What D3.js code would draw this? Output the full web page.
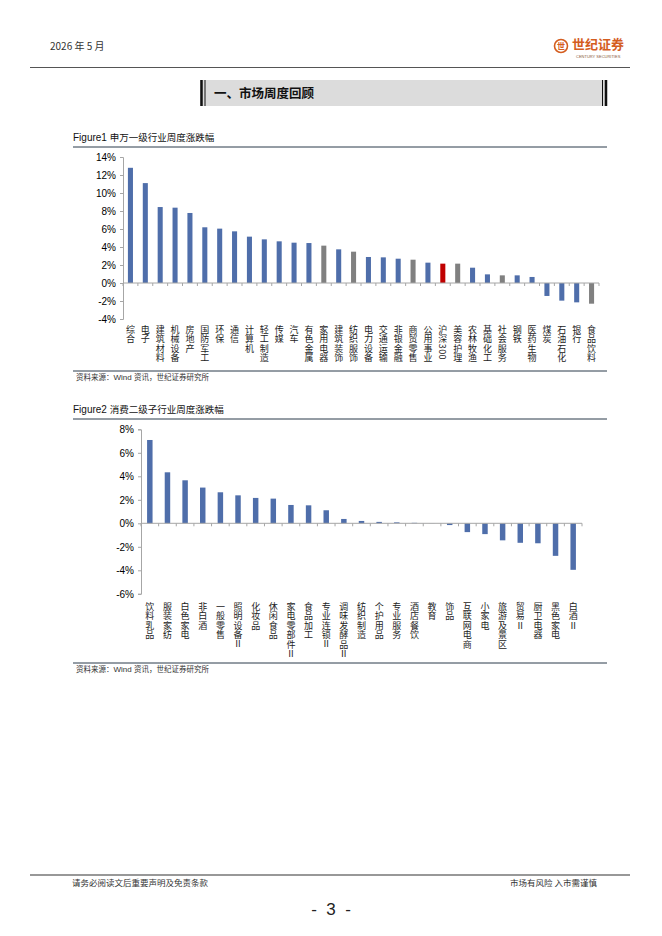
<!DOCTYPE html>
<html>
<head>
<meta charset="utf-8">
<script src="https://cdn.jsdelivr.net/npm/d3@7"></script>
<style>
  body { margin: 0; background: #fff; }
  svg { display: block; }
  .lat { font-family: "Liberation Sans", Arial, sans-serif; }
  .cjk { font-family: "Noto Sans CJK SC", sans-serif; }
  .axis path, .axis line { stroke: #a6a6a6; }
  .axis text { font-family: "Liberation Sans", Arial, sans-serif; font-size: 10px; fill: #000; }
  .xlabel { font-family: "Noto Sans CJK SC", sans-serif; font-size: 9px; fill: #222;
            writing-mode: vertical-rl; text-orientation: mixed; letter-spacing: 0.4px; }
</style>
</head>
<body>
<div id="page"></div>
<script>
// Figure1: 申万一级行业周度涨跌幅 (%)
const sectors1 = ['综合', '电子', '建筑材料', '机械设备', '房地产', '国防军工', '环保', '通信', '计算机', '轻工制造',
  '传媒', '汽车', '有色金属', '家用电器', '建筑装饰', '纺织服饰', '电力设备', '交通运输', '非银金融', '商贸零售',
  '公用事业', '沪深300', '美容护理', '农林牧渔', '基础化工', '社会服务', '钢铁', '医药生物', '煤炭', '石油石化',
  '银行', '食品饮料'];
const change1 = [12.8, 11.1, 8.44, 8.37, 7.78, 6.19, 6.04, 5.74, 5.15, 4.85,
  4.63, 4.48, 4.44, 4.15, 3.74, 3.48, 2.89, 2.85, 2.70, 2.59,
  2.26, 2.15, 2.15, 1.70, 0.96, 0.85, 0.85, 0.67, -1.44, -1.96,
  -2.15, -2.30];
const consumerSectors = ['家用电器', '纺织服饰', '商贸零售', '美容护理', '社会服务', '食品饮料'];
const benchmark = '沪深300';
const ticks1 = [-4, -2, 0, 2, 4, 6, 8, 10, 12, 14];

// Figure2: 消费二级子行业周度涨跌幅 (%)
const sectors2 = ['饮料乳品', '服装家纺', '白色家电', '非白酒', '一般零售', '照明设备Ⅱ', '化妆品', '休闲食品',
  '家电零部件Ⅱ', '食品加工', '专业连锁Ⅱ', '调味发酵品Ⅱ', '纺织制造', '个护用品', '专业服务', '酒店餐饮', '教育',
  '饰品', '互联网电商', '小家电', '旅游及景区', '贸易Ⅱ', '厨卫电器', '黑色家电', '白酒Ⅱ'];
const change2 = [7.09, 4.34, 3.66, 3.04, 2.64, 2.38, 2.16, 2.10,
  1.56, 1.53, 1.11, 0.37, 0.20, 0.12, 0.08, 0.04, 0.01,
  -0.15, -0.75, -0.92, -1.45, -1.66, -1.70, -2.77, -3.96];
const ticks2 = [-6, -4, -2, 0, 2, 4, 6, 8];

const W = 662, H = 936;
const BLUE = '#4f6eaa', GREY = '#808080', RED = '#c00000';

const svg = d3.select('#page').append('svg')
  .attr('width', W)
  .attr('height', H);

svg.append('rect').attr('width', W).attr('height', H).attr('fill', '#fff');

// ---- page header ----
svg.append('text')
  .attr('x', 50).attr('y', 50)
  .attr('class', 'cjk')
  .attr('font-size', 10).attr('fill', '#333')
  .text('2026 年 5 月');

const logo = svg.append('g').attr('transform', 'translate(561,46)');
logo.append('circle').attr('r', 6.5).attr('fill', 'none').attr('stroke', '#d45d1f').attr('stroke-width', 1.6);
logo.append('text').attr('class', 'cjk').attr('text-anchor', 'middle').attr('y', 3)
  .attr('font-size', 8).attr('font-weight', 'bold').attr('fill', '#d45d1f').text('世');
logo.append('text').attr('class', 'cjk').attr('x', 11).attr('y', 3)
  .attr('font-size', 13).attr('font-weight', 'bold').attr('fill', '#d45d1f').text('世纪证券');
logo.append('text').attr('class', 'lat').attr('x', 15).attr('y', 12)
  .attr('font-size', 4).attr('fill', '#8a5a3a').text('CENTURY SECURITIES');

svg.append('line')
  .attr('x1', 30).attr('x2', 630).attr('y1', 67.5).attr('y2', 67.5)
  .attr('stroke', '#555').attr('stroke-width', 1.2);

// ---- section heading ----
svg.append('rect').attr('x', 200).attr('y', 80).attr('width', 407).attr('height', 26).attr('fill', '#dcdcdc');
[[201.5, 2.5], [205, 1], [602.5, 1], [606, 2.5]].forEach(([x, w]) => {
  svg.append('line').attr('x1', x).attr('x2', x).attr('y1', 80).attr('y2', 106)
    .attr('stroke', '#111').attr('stroke-width', w);
});
svg.append('text')
  .attr('x', 214).attr('y', 98)
  .attr('class', 'cjk')
  .attr('font-size', 12.5).attr('font-weight', 'bold').attr('fill', '#111')
  .text('一、市场周度回顾');

// ---- chart helper ----
function drawChart(opt) {
  const { cats, vals, ticks, colorOf } = opt;

  // caption and rules
  const cap = svg.append('text').attr('x', 73).attr('y', opt.titleY).attr('font-size', 10).attr('fill', '#111');
  cap.append('tspan').attr('class', 'lat').text(opt.figure + ' ');
  cap.append('tspan').attr('class', 'cjk').attr('font-size', 9.5).text(opt.title);
  svg.append('line').attr('x1', 73).attr('x2', 607).attr('y1', opt.titleY + 6).attr('y2', opt.titleY + 6)
    .attr('stroke', '#2b3a4a').attr('stroke-width', 1);

  svg.append('line').attr('x1', 73).attr('x2', 607).attr('y1', opt.sourceY).attr('y2', opt.sourceY)
    .attr('stroke', '#2b3a4a').attr('stroke-width', 1);
  const src = svg.append('text').attr('x', 76).attr('y', opt.sourceY + 9).attr('font-size', 7.5).attr('fill', '#333');
  src.append('tspan').attr('class', 'cjk').text('资料来源：');
  src.append('tspan').attr('class', 'lat').attr('font-size', 8).text('Wind ');
  src.append('tspan').attr('class', 'cjk').text('资讯，世纪证券研究所');

  const x = d3.scaleBand()
    .domain(cats)
    .range(opt.xRange)
    .paddingInner(opt.pad)
    .paddingOuter(opt.pad / 2);

  const y = d3.scaleLinear()
    .domain(d3.extent(ticks))
    .range(opt.yRange);

  // y axis
  svg.append('g')
    .attr('class', 'axis')
    .attr('transform', `translate(${opt.xRange[0]},0)`)
    .call(d3.axisLeft(y).tickValues(ticks).tickSize(3).tickSizeOuter(3).tickPadding(4).tickFormat(d => d + '%'));

  // bars
  svg.append('g').selectAll('rect')
    .data(cats)
    .enter()
    .append('rect')
    .attr('x', d => x(d))
    .attr('width', x.bandwidth())
    .attr('y', (d, i) => y(Math.max(0, vals[i])))
    .attr('height', (d, i) => Math.abs(y(vals[i]) - y(0)))
    .attr('fill', d => colorOf(d));

  // category axis along zero line
  const zero = y(0);
  const xa = svg.append('g').attr('class', 'axis');
  xa.append('line')
    .attr('x1', opt.xRange[0]).attr('x2', opt.xRange[1])
    .attr('y1', zero).attr('y2', zero);
  const bounds = cats.map(c => x(c) - x.step() * x.paddingInner() / 2).concat([opt.xRange[1]]);
  xa.selectAll('.tick')
    .data(bounds)
    .enter()
    .append('line')
    .attr('x1', d => d).attr('x2', d => d)
    .attr('y1', zero).attr('y2', zero + 3);

  // vertical category labels
  svg.append('g').selectAll('text')
    .data(cats)
    .enter()
    .append('text')
    .attr('class', 'xlabel')
    .attr('x', d => x(d) + x.bandwidth() / 2)
    .attr('y', opt.labelY)
    .text(d => d);
}

drawChart({
  figure: 'Figure1',
  title: '申万一级行业周度涨跌幅',
  titleY: 141,
  sourceY: 371,
  cats: sectors1,
  vals: change1,
  ticks: ticks1,
  xRange: [123, 599],
  yRange: [319, 157],
  pad: 0.66,
  labelY: 325,
  colorOf: d => d === benchmark ? RED : (consumerSectors.includes(d) ? GREY : BLUE)
});

drawChart({
  figure: 'Figure2',
  title: '消费二级子行业周度涨跌幅',
  titleY: 413,
  sourceY: 663,
  cats: sectors2,
  vals: change2,
  ticks: ticks2,
  xRange: [141, 582],
  yRange: [593.8, 429.3],
  pad: 0.69,
  labelY: 602,
  colorOf: () => BLUE
});

// ---- page footer ----
svg.append('line')
  .attr('x1', 30).attr('x2', 630).attr('y1', 875).attr('y2', 875)
  .attr('stroke', '#333').attr('stroke-width', 1.2);
svg.append('text')
  .attr('x', 72).attr('y', 886)
  .attr('class', 'cjk').attr('font-size', 8.5).attr('fill', '#333')
  .text('请务必阅读文后重要声明及免责条款');
svg.append('text')
  .attr('x', 597).attr('y', 886)
  .attr('text-anchor', 'end')
  .attr('class', 'cjk').attr('font-size', 8.5).attr('fill', '#333')
  .text('市场有风险 入市需谨慎');
svg.append('text')
  .attr('x', 331).attr('y', 915)
  .attr('text-anchor', 'middle')
  .attr('class', 'lat').attr('font-size', 17).attr('fill', '#222')
  .style('white-space', 'pre')
  .text('-  3  -');
</script>
</body>
</html>
